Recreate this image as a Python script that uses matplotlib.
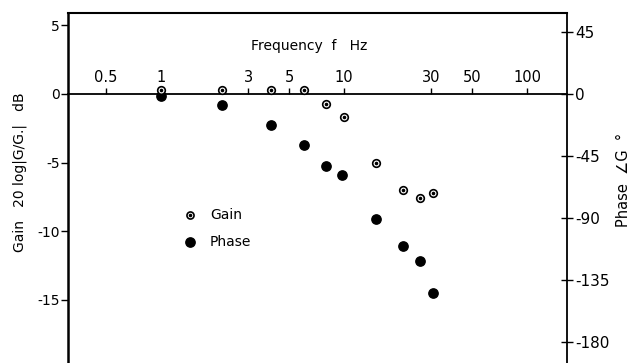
import matplotlib.pyplot as plt

# data
gain_freq = [1.0, 2.15, 4.0, 6.0, 8.0, 10.0, 15.0, 21.0, 26.0, 30.5]
gain_db = [0.3, 0.3, 0.3, 0.3, -0.75, -1.7, -5.0, -7.0, -7.6, -7.2]

phase_freq = [1.0, 2.15, 4.0, 6.0, 8.0, 9.7, 15.0, 21.0, 26.0, 30.5]
phase_deg = [-1.5, -8.0, -22.5, -37.0, -52.0, -59.0, -90.5, -110.0, -121.0, -144.0]

freq_ticks = [0.5, 1, 3, 5, 10, 30, 50, 100]
freq_ticklabels = ['0.5', '1', '3', '5', '10', '30', '50', '100']
gain_ticks = [5, 0, -5, -10, -15]
phase_ticks = [45, 0, -45, -90, -135, -180]

fig = plt.figure(figsize=(6.35, 3.63), dpi=100)
ax = fig.add_axes([68 / 635, 0.0, (567 - 68) / 635, (363 - 13) / 363])

ax.set_xscale('log')
ax.set_xlim(0.31, 165)
ax.set_ylim(-19.6, 5.9)

ax2 = ax.twinx()
ax2.set_ylim(-195, 58.8)
ax2.scatter(phase_freq, phase_deg, s=45, color='black', zorder=5)

# gain drawn on top (twin axes) so open circles sit over the phase dots
ax3 = ax.twinx()
ax3.set_ylim(ax.get_ylim())
ax3.set_yticks([])
ax3.scatter(gain_freq, gain_db, s=30, facecolors='white', edgecolors='black',
            linewidths=1.2, zorder=5)
ax3.scatter(gain_freq, gain_db, s=2.5, color='black', zorder=6)

# x axis drawn along 0 dB with labels above it
ax.spines['bottom'].set_position(('data', 0))
ax.spines['bottom'].set_linewidth(1.3)
ax.spines['left'].set_linewidth(1.8)
ax.spines['top'].set_linewidth(1.5)
ax.spines['right'].set_linewidth(1.3)
for a in (ax2, ax3):
    for s in ['bottom', 'top', 'right', 'left']:
        a.spines[s].set_visible(False)

ax.set_xticks(freq_ticks)
ax.set_xticklabels(freq_ticklabels)
ax.xaxis.set_minor_locator(plt.NullLocator())
ax.tick_params(axis='x', direction='in', length=4, width=1, pad=-17, labelsize=10.5)

ax.set_yticks(gain_ticks)
ax.set_yticklabels([str(v) for v in gain_ticks])
ax.tick_params(axis='y', direction='out', length=5, width=1, pad=1, labelsize=10)

ax2.set_yticks(phase_ticks)
ax2.set_yticklabels([str(v) for v in phase_ticks])
ax2.tick_params(axis='y', direction='inout', length=8, width=1, pad=2, labelsize=11)

fig.text(309 / 635, 1 - 46 / 363, 'Frequency  f   Hz', ha='center', va='center', fontsize=10)
fig.text(20 / 635, 1 - 172 / 363, 'Gain   20 log|G/G.|   dB', rotation=90,
         ha='center', va='center', fontsize=10)
fig.text(624 / 635, 1 - 180 / 363, 'Phase  \u2220G  \u00b0', rotation=90,
         ha='center', va='center', fontsize=10.5)

# legend drawn by hand like the original
lx = 10 ** ((190 - 161) / 183)
tx = 10 ** ((210 - 161) / 183)
ax3.scatter([lx], [-8.8], s=26, facecolors='white', edgecolors='black', linewidths=1.2, zorder=5)
ax3.scatter([lx], [-8.8], s=2.5, color='black', zorder=6)
ax3.scatter([lx], [-10.75], s=45, color='black', zorder=5)
ax3.text(tx, -8.8, 'Gain', va='center', fontsize=10)
ax3.text(tx, -10.75, 'Phase', va='center', fontsize=10)

fig.savefig('out.png', dpi=100)
